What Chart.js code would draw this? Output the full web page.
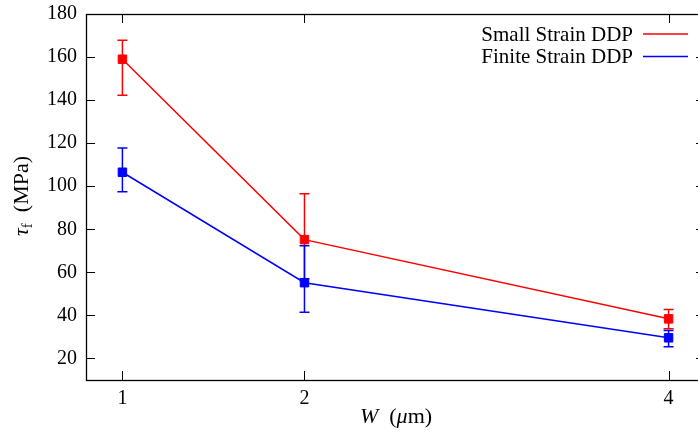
<!DOCTYPE html>
<html>
<head>
<meta charset="utf-8">
<script src="https://cdn.jsdelivr.net/npm/chart.js@4.4.0/dist/chart.umd.min.js"></script>
<style>
    html, body { margin: 0; padding: 0; background: #fff; overflow: hidden; }
    #wrap { width: 712px; height: 437px; }
</style>
</head>
<body>
<div id="wrap"><canvas id="chart" width="712" height="437"></canvas></div>
<script>
// ---- data ----
const widths = [1, 2, 4];
const smallStrain = [159, 75.2, 38.4];
const smallLow = [142.3, 57, 33.8];
const smallHigh = [167.8, 96.5, 42.8];
const finiteStrain = [106.5, 55.2, 29.6];
const finiteLow = [97.4, 41.5, 25.4];
const finiteHigh = [117.8, 72.4, 33];
const xTicks = [1, 2, 4];
const yTicks = [20, 40, 60, 80, 100, 120, 140, 160, 180];

const SERIF = '"Liberation Serif", "DejaVu Serif", serif';
const RED = '#ff0000';
const BLUE = '#0000ff';

const toPoints = (ys) => widths.map((x, i) => ({ x: x, y: ys[i] }));

// frame with inward ticks on all four sides (gnuplot style)
const framePlugin = {
    id: 'frame',
    beforeDatasetsDraw(chart) {
        const { ctx, chartArea: a, scales } = chart;
        const tl = 9;
        ctx.save();
        ctx.strokeStyle = '#000';
        ctx.lineWidth = 1;
        ctx.beginPath();
        for (const v of xTicks) {
            const px = Math.round(scales.x.getPixelForValue(v)) + 0.5;
            ctx.moveTo(px, a.bottom); ctx.lineTo(px, a.bottom - tl);
            ctx.moveTo(px, a.top); ctx.lineTo(px, a.top + tl);
        }
        for (const v of yTicks) {
            const py = Math.round(scales.y.getPixelForValue(v)) + 0.5;
            ctx.moveTo(a.left, py); ctx.lineTo(a.left + tl, py);
            ctx.moveTo(a.right, py); ctx.lineTo(a.right - tl, py);
        }
        ctx.stroke();
        ctx.lineWidth = 1.3;
        ctx.strokeRect(Math.round(a.left) + 0.5, Math.round(a.top) + 0.5,
            Math.round(a.right - a.left), Math.round(a.bottom - a.top));
        ctx.restore();
    }
};

// vertical error bars with caps
const errorBarPlugin = {
    id: 'errorBars',
    beforeDatasetDraw(chart, args) {
        const ds = chart.data.datasets[args.index];
        if (!ds.errLow) return;
        const { ctx, scales } = chart;
        const cap = 5;
        ctx.save();
        ctx.strokeStyle = ds.borderColor;
        ctx.lineWidth = 1.5;
        ctx.beginPath();
        ds.data.forEach((p, i) => {
            const px = scales.x.getPixelForValue(p.x);
            const lo = scales.y.getPixelForValue(ds.errLow[i]);
            const hi = scales.y.getPixelForValue(ds.errHigh[i]);
            ctx.moveTo(px, lo); ctx.lineTo(px, hi);
            ctx.moveTo(px - cap, lo); ctx.lineTo(px + cap, lo);
            ctx.moveTo(px - cap, hi); ctx.lineTo(px + cap, hi);
        });
        ctx.stroke();
        ctx.restore();
    }
};

// legend inside the plot: text, then line sample to the right
const keyPlugin = {
    id: 'key',
    afterDraw(chart) {
        const { ctx, chartArea: a } = chart;
        ctx.save();
        ctx.font = '21px ' + SERIF;
        ctx.textAlign = 'right';
        ctx.textBaseline = 'middle';
        chart.data.datasets.forEach((ds, i) => {
            const y = 34 + i * 22.5;
            ctx.fillStyle = '#000';
            ctx.fillText(ds.label, a.right - 72, y + 1);
            ctx.strokeStyle = ds.borderColor;
            ctx.lineWidth = 1.5;
            ctx.beginPath();
            ctx.moveTo(a.right - 62, y);
            ctx.lineTo(a.right - 17, y);
            ctx.stroke();
        });
        ctx.restore();
    }
};

// axis titles with italic symbols and subscript
const drawParts = (ctx, parts, cx, cy) => {
    let total = 0;
    parts.forEach(p => { ctx.font = p.font; p.w = ctx.measureText(p.text).width; total += p.w; });
    let x = cx - total / 2;
    parts.forEach(p => {
        ctx.font = p.font;
        ctx.fillText(p.text, x, cy + (p.dy || 0));
        x += p.w;
    });
};

const titlePlugin = {
    id: 'titles',
    afterDraw(chart) {
        const { ctx } = chart;
        ctx.save();
        ctx.fillStyle = '#000';
        ctx.textAlign = 'left';
        ctx.textBaseline = 'alphabetic';
        drawParts(ctx, [
            { text: 'W', font: 'italic 22px ' + SERIF },
            { text: '  (', font: '22px ' + SERIF },
            { text: 'μ', font: 'italic 22px ' + SERIF },
            { text: 'm)', font: '22px ' + SERIF }
        ], 396, 423);
        ctx.translate(21, 196);
        ctx.rotate(-Math.PI / 2);
        drawParts(ctx, [
            { text: 'τ', font: 'italic 22px ' + SERIF },
            { text: 'f', font: '15px ' + SERIF, dy: 4 },
            { text: '  (MPa)', font: '22px ' + SERIF }
        ], 0, 7);
        ctx.restore();
    }
};

new Chart(document.getElementById('chart'), {
    type: 'line',
    data: {
        datasets: [
            {
                label: 'Small Strain DDP',
                data: toPoints(smallStrain),
                errLow: smallLow,
                errHigh: smallHigh,
                borderColor: RED,
                backgroundColor: RED,
                borderWidth: 1.5,
                pointStyle: 'rect',
                pointRadius: 6,
                pointBorderWidth: 1,
                order: 1
            },
            {
                label: 'Finite Strain DDP',
                data: toPoints(finiteStrain),
                errLow: finiteLow,
                errHigh: finiteHigh,
                borderColor: BLUE,
                backgroundColor: BLUE,
                borderWidth: 1.5,
                pointStyle: 'rect',
                pointRadius: 6,
                pointBorderWidth: 1,
                order: 0
            }
        ]
    },
    options: {
        responsive: false,
        animation: false,
        layout: { padding: { top: 14, right: 7, left: 0, bottom: 0 } },
        plugins: {
            legend: { display: false },
            tooltip: { enabled: false }
        },
        scales: {
            x: {
                type: 'linear',
                min: 0.8,
                max: 4.2,
                afterBuildTicks: (s) => { s.ticks = xTicks.map(v => ({ value: v })); },
                afterFit: (s) => { s.height = 57; s.paddingLeft = 0; s.paddingRight = 0; },
                grid: { display: false, drawTicks: false, tickLength: 0 },
                border: { display: false },
                ticks: { color: '#000', font: { family: SERIF, size: 20 }, padding: 7 }
            },
            y: {
                min: 10,
                max: 180,
                afterBuildTicks: (s) => { s.ticks = yTicks.map(v => ({ value: v })); },
                afterFit: (s) => { s.width = 86; s.paddingTop = 0; s.paddingBottom = 0; },
                grid: { display: false, drawTicks: false, tickLength: 0 },
                border: { display: false },
                ticks: { color: '#000', font: { family: SERIF, size: 20 }, padding: 9 }
            }
        }
    },
    plugins: [framePlugin, errorBarPlugin, keyPlugin, titlePlugin]
});
</script>
</body>
</html>
